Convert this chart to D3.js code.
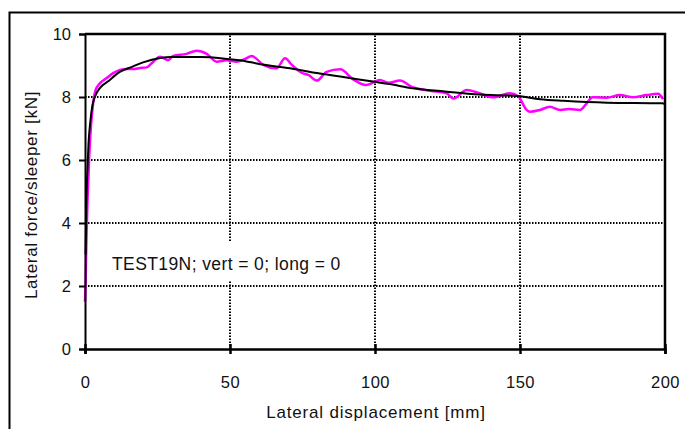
<html>
<script src='https://d3js.org/d3.v7.min.js'></script>
<style>
body {margin:0; background:#fff;}
text {font-family: Arial, 'Liberation Sans', sans-serif; fill:#111;}
</style>
<body onload='init()'>
<svg width=685 height=429></svg>
<script>
// measured curve (magenta)
const measX = [0, 0.2, 0.5, 0.9, 1.4, 2.0, 2.8, 3.6, 5.2, 7.5, 9.7, 14.4, 16.6, 19, 21.3, 23, 25.9, 28.7, 30.4, 35, 38.5, 42, 45.4, 48.9, 52.3, 55, 57.5, 61.5, 66, 69, 71.3, 74.7, 77, 80, 83.3, 88, 92.5, 97, 101.7, 104.6, 108.6, 113, 119, 124.7, 127, 131.6, 136, 140.8, 146.5, 149.3, 152.3, 153.4, 156.9, 160.3, 163.8, 167, 170.7, 173, 175, 179.9, 184.5, 189, 193.7, 197.6, 199.3];
const measY = [1.5, 2.1, 3.5, 4.8, 6.0, 7.0, 7.8, 8.2, 8.44, 8.6, 8.76, 8.89, 8.89, 8.92, 8.94, 9.07, 9.28, 9.17, 9.3, 9.37, 9.47, 9.37, 9.12, 9.17, 9.12, 9.2, 9.3, 9.02, 8.91, 9.23, 9.02, 8.77, 8.7, 8.52, 8.8, 8.88, 8.56, 8.38, 8.54, 8.45, 8.52, 8.31, 8.2, 8.12, 7.95, 8.22, 8.12, 7.99, 8.12, 8.03, 7.59, 7.53, 7.59, 7.69, 7.59, 7.62, 7.59, 7.8, 7.99, 7.98, 8.06, 7.99, 8.06, 8.1, 7.93];
// fitted curve (black)
const fitX = [0.2, 0.5, 0.8, 1.2, 1.9, 2.5, 3.4, 5.2, 8, 12, 16, 20, 25.9, 30, 40, 50, 53.4, 60, 70.7, 80, 88, 99.3, 105, 113, 124.8, 136, 149, 157, 165, 180, 199, 200];
const fitY = [3.0, 4.8, 5.6, 6.5, 7.27, 7.7, 8.0, 8.29, 8.5, 8.8, 8.95, 9.1, 9.24, 9.27, 9.27, 9.2, 9.17, 9.05, 8.91, 8.76, 8.65, 8.49, 8.41, 8.28, 8.17, 8.08, 8.03, 7.93, 7.88, 7.82, 7.8, 7.78];

const xTicks = [0, 50, 100, 150, 200];
const yTicks = [0, 2, 4, 6, 8, 10];
const xGrid = [50, 100, 150];
const yGrid = [2, 4, 6, 8];
const label = 'TEST19N; vert = 0; long = 0';

function init() {
    const svg = d3.select('svg');
    const x = d3.scaleLinear().domain([0, 200]).range([85, 665]);
    const y = d3.scaleLinear().domain([0, 10]).range([349, 34]);

    // outer frame
    svg.append('path').attr('d', 'M9.5,429 L9.5,12.5 L685,12.5')
      .attr('fill', 'none').attr('stroke', '#000').attr('stroke-width', 2);

    // grid
    svg.selectAll('.hg').data(yGrid).enter().append('line')
      .attr('x1', x(0)).attr('x2', x(200)).attr('y1', d => y(d)).attr('y2', d => y(d))
      .attr('stroke', '#000').attr('stroke-width', 2).attr('stroke-dasharray', '1.5,1.5');
    svg.selectAll('.vg').data(xGrid).enter().append('line')
      .attr('y1', y(0)).attr('y2', y(10)).attr('x1', d => x(d)).attr('x2', d => x(d))
      .attr('stroke', '#000').attr('stroke-width', 2).attr('stroke-dasharray', '1.5,1.5');

    // label box
    svg.append('rect').attr('x', 100).attr('y', 242).attr('width', 255).attr('height', 38).attr('fill', '#fff');
    svg.append('text').attr('x', 112).attr('y', 270).attr('font-size', 17.5)
      .attr('letter-spacing', 0.4).text(label);

    // curves
    const line = d3.line().curve(d3.curveMonotoneX).x(d => x(d[0])).y(d => y(d[1]));
    svg.append('path').datum(d3.zip(measX, measY)).attr('d', line)
      .attr('fill', 'none').attr('stroke', '#ff00ff').attr('stroke-width', 2.5);
    svg.append('path').datum(d3.zip(fitX, fitY)).attr('d', line)
      .attr('fill', 'none').attr('stroke', '#000').attr('stroke-width', 2);

    // plot border (top, right)
    svg.append('path').attr('d', `M${x(0)},${y(10)} L${x(200)},${y(10)} L${x(200)},${y(0)}`)
      .attr('fill', 'none').attr('stroke', '#000').attr('stroke-width', 2.5);

    // axes
    const ya = svg.append('g').attr('transform', `translate(${x(0)},0)`)
      .call(d3.axisLeft(y).tickValues(yTicks).tickSize(6).tickPadding(8));
    ya.select('.domain').attr('stroke-width', 2);
    ya.selectAll('.tick line').attr('stroke-width', 2);
    ya.selectAll('text').attr('font-size', 16.5).attr('font-family', 'Arial, Liberation Sans').attr('fill', '#111');

    const xa = svg.append('g').attr('transform', `translate(0,${y(0)})`)
      .call(d3.axisBottom(x).tickValues(xTicks).tickSize(5).tickPadding(22));
    xa.select('.domain').attr('stroke-width', 2.5);
    xa.selectAll('.tick line').attr('y1', -5).attr('stroke-width', 2.5);
    xa.selectAll('text').attr('font-size', 16.5).attr('letter-spacing', 0.5)
      .attr('font-family', 'Arial, Liberation Sans').attr('fill', '#111');

    // axis titles
    svg.append('text').attr('x', 376).attr('y', 418).attr('text-anchor', 'middle')
      .attr('font-size', 17).attr('letter-spacing', 0.8).text('Lateral displacement [mm]');
    svg.append('text').attr('transform', 'translate(37,195) rotate(-90)').attr('text-anchor', 'middle')
      .attr('font-size', 17).attr('letter-spacing', 0.7).text('Lateral force/sleeper [kN]');
}
</script>
</body>
</html>
